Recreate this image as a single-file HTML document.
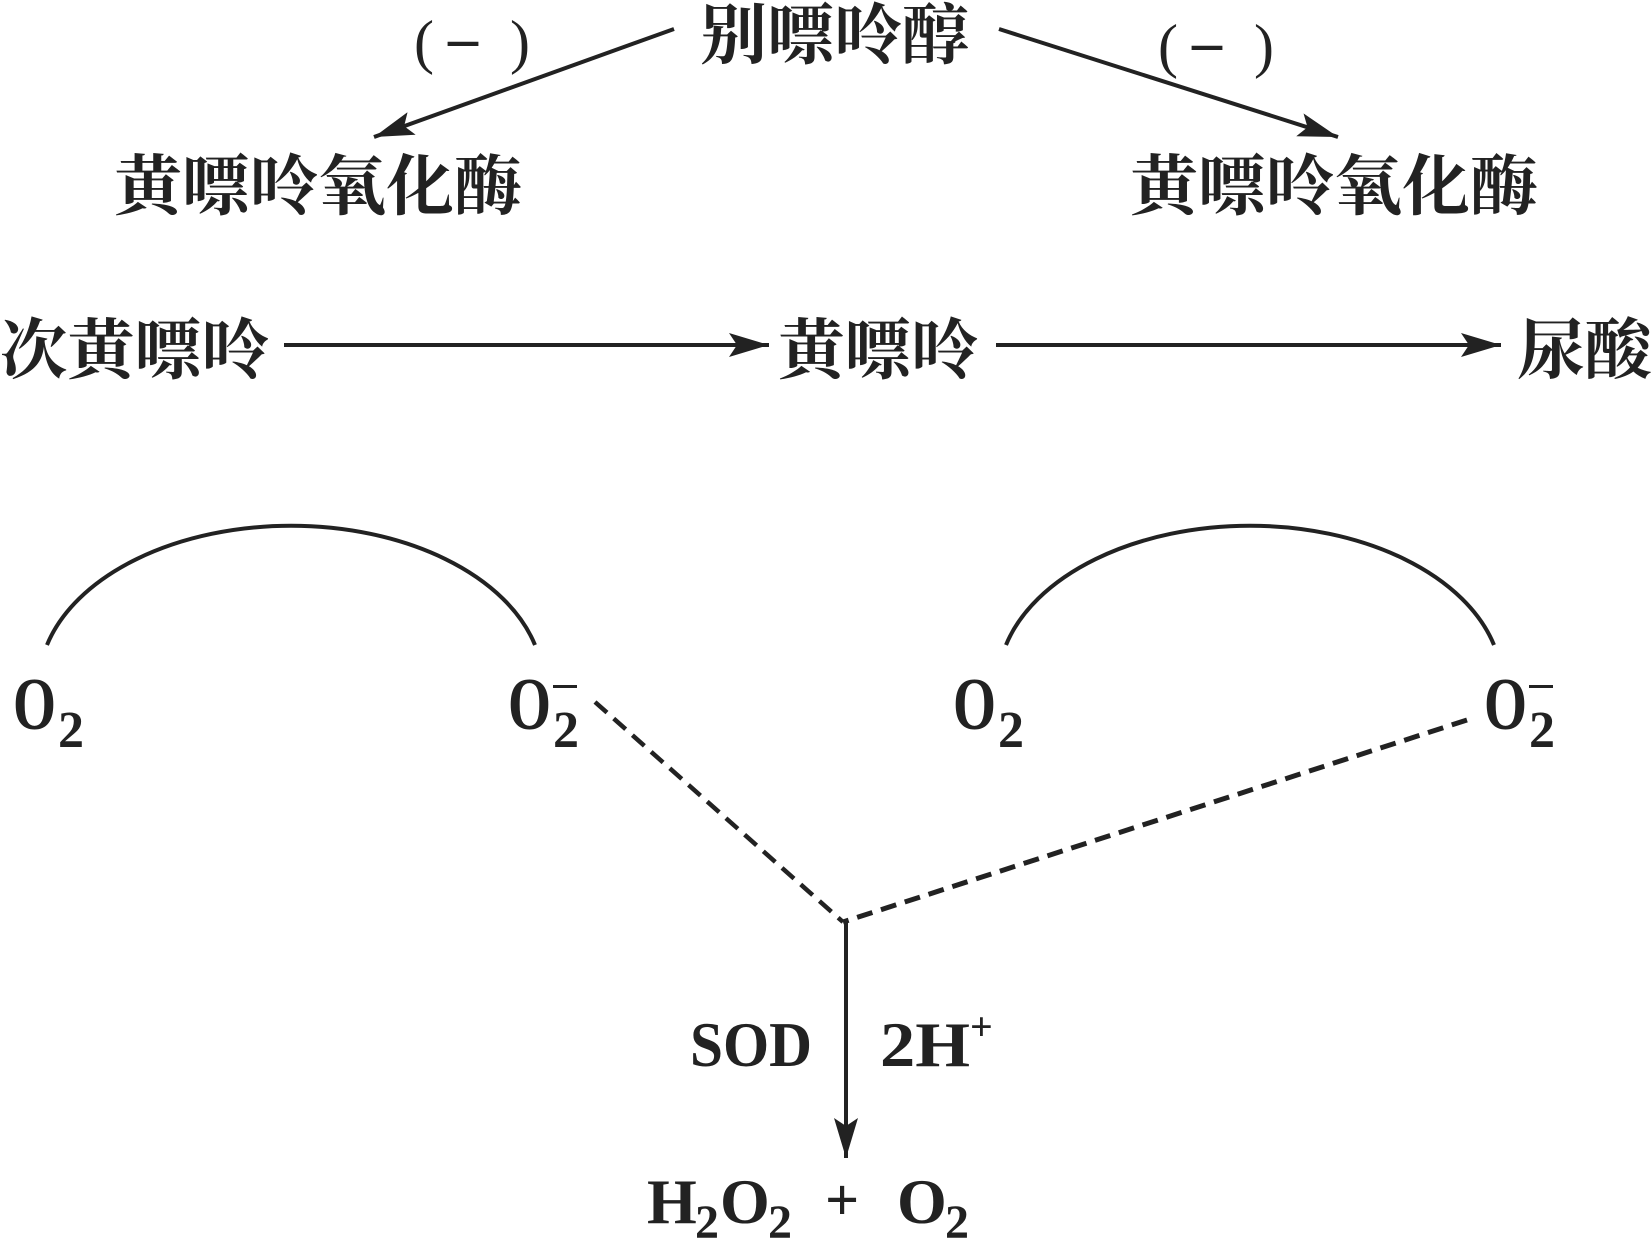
<!DOCTYPE html>
<html><head><meta charset="utf-8"><style>html,body{margin:0;padding:0;background:#fff}svg{display:block}</style></head>
<body>
<svg width="1652" height="1241" viewBox="0 0 1652 1241" xmlns="http://www.w3.org/2000/svg">
<defs>
<marker id="ah" viewBox="0 0 40 24" refX="40" refY="12" markerWidth="40" markerHeight="24" markerUnits="userSpaceOnUse" orient="auto">
<path d="M0,0 L40,12 L0,24 L8,12 Z" fill="#222"/>
</marker>
<marker id="ah2" viewBox="0 0 40 24" refX="40" refY="12" markerWidth="40" markerHeight="24" markerUnits="userSpaceOnUse" orient="auto">
<path d="M0,0 L40,12 L0,24 L8,12 Z" fill="#222"/>
</marker>
</defs>
<g fill="#222" style="font-family:'Liberation Serif','Noto Serif CJK SC',serif" font-weight="bold">
<text x="700" y="58" font-size="66" textLength="269" lengthAdjust="spacingAndGlyphs">别嘌呤醇</text>
<text x="414" y="62" font-size="60" font-weight="normal">(</text>
<text x="448" y="58" font-size="60">–</text>
<text x="510" y="62" font-size="60" font-weight="normal">)</text>
<text x="1158" y="66" font-size="60" font-weight="normal">(</text>
<text x="1192" y="62" font-size="60">–</text>
<text x="1254" y="66" font-size="60" font-weight="normal">)</text>
<text x="114" y="209" font-size="66" textLength="408" lengthAdjust="spacingAndGlyphs">黄嘌呤氧化酶</text>
<text x="1130" y="209" font-size="66" textLength="408" lengthAdjust="spacingAndGlyphs">黄嘌呤氧化酶</text>
<text x="0" y="373" font-size="66" textLength="269" lengthAdjust="spacingAndGlyphs">次黄嘌呤</text>
<text x="778" y="373" font-size="66" textLength="200" lengthAdjust="spacingAndGlyphs">黄嘌呤</text>
<text x="1517" y="373" font-size="66" textLength="135" lengthAdjust="spacingAndGlyphs">尿酸</text>
</g>
<g fill="#222" style="font-family:'Liberation Serif',serif" font-weight="bold">
<g font-size="74">
<text x="13" y="729" textLength="43" lengthAdjust="spacingAndGlyphs">O</text><text x="58" y="747" font-size="52">2</text>
<text x="508" y="729" textLength="43" lengthAdjust="spacingAndGlyphs">O</text><text x="553" y="747" font-size="52">2</text>
<text x="953" y="729" textLength="43" lengthAdjust="spacingAndGlyphs">O</text><text x="998" y="747" font-size="52">2</text>
<text x="1484" y="729" textLength="43" lengthAdjust="spacingAndGlyphs">O</text><text x="1529" y="747" font-size="52">2</text>
</g>
<rect x="553" y="685" width="24" height="3"/>
<rect x="1529" y="685" width="24" height="3"/>

<text x="690" y="1066" font-size="64" textLength="122" lengthAdjust="spacingAndGlyphs">SOD</text>
<text x="880" y="1066" font-size="64" textLength="90" lengthAdjust="spacingAndGlyphs">2H</text>
<text x="970" y="1040" font-size="40">+</text>
<text x="647" y="1223" font-size="64">H</text><text x="695" y="1238" font-size="48">2</text>
<text x="720" y="1223" font-size="64">O</text><text x="768" y="1238" font-size="48">2</text>
<text x="825" y="1220" font-size="60">+</text>
<text x="897" y="1223" font-size="64">O</text><text x="945" y="1238" font-size="48">2</text>
</g>

<g stroke="#222" stroke-width="4" fill="none">
<line x1="674" y1="29" x2="374" y2="137" marker-end="url(#ah2)"/>
<line x1="999" y1="29" x2="1338" y2="137" marker-end="url(#ah2)"/>
<line x1="284" y1="345" x2="769" y2="345" marker-end="url(#ah2)"/>
<line x1="996" y1="345" x2="1501" y2="345" marker-end="url(#ah2)"/>
<path d="M47,645 A252,159 0 0 1 535,645"/>
<path d="M1006,645 A252,159 0 0 1 1494,645"/>
<line x1="595" y1="702" x2="843" y2="922" stroke-dasharray="16,9" stroke-width="4.5"/>
<line x1="1467" y1="720" x2="843" y2="922" stroke-dasharray="16,9" stroke-width="5"/>
<line x1="846" y1="922" x2="846" y2="1158" stroke-width="4" marker-end="url(#ah)"/>
</g>
</svg>
</body></html>
